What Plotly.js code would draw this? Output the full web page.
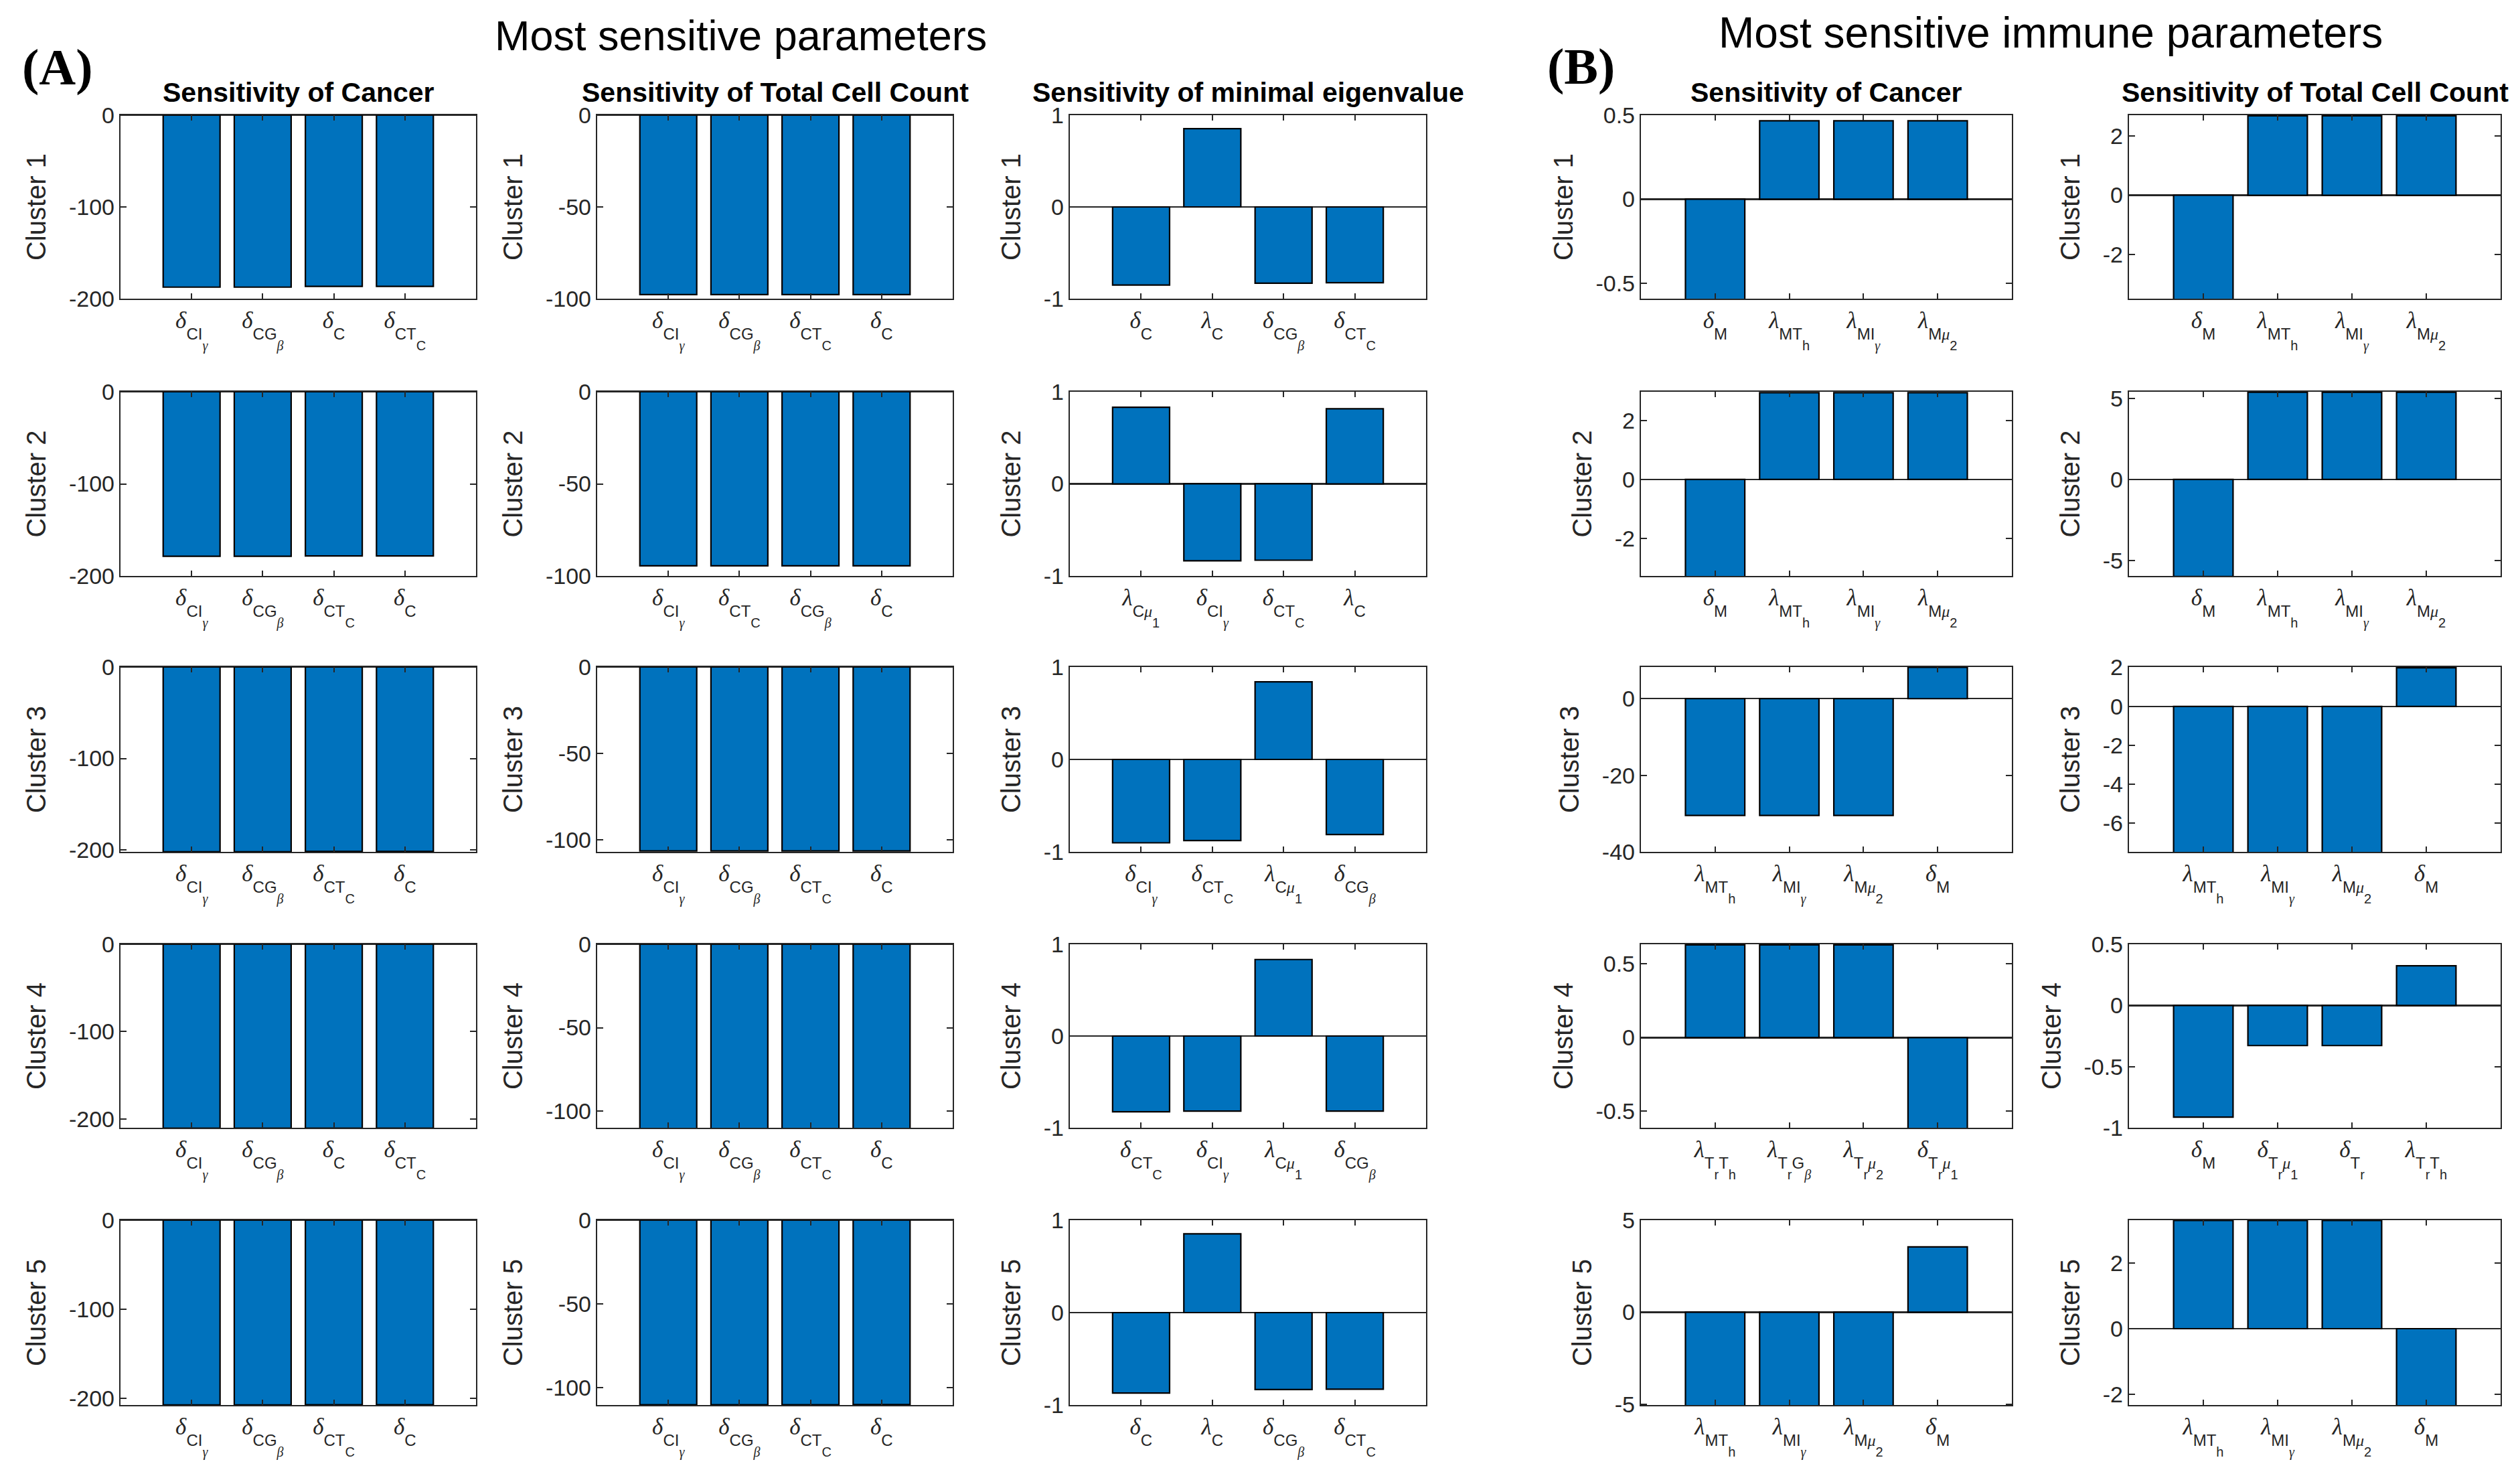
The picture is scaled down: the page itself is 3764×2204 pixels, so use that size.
<!DOCTYPE html>
<html>
<head>
<meta charset="utf-8">
<script src="https://cdn.plot.ly/plotly-3.0.1.min.js"></script>
<style>html,body{margin:0;padding:0;background:#ffffff;}</style>
</head>
<body>
<div id="chart" style="width:3764px;height:2204px;"></div>
<script>
// ---------------- DATA ----------------
const clusterNames = ['Cluster 1', 'Cluster 2', 'Cluster 3', 'Cluster 4', 'Cluster 5'];
const columnTitles = ['Sensitivity of Cancer', 'Sensitivity of Total Cell Count', 'Sensitivity of minimal eigenvalue',
                      'Sensitivity of Cancer', 'Sensitivity of Total Cell Count'];
const panelTitles = ['Most sensitive parameters', 'Most sensitive immune parameters'];
const panelLetters = ['(A)', '(B)'];

// (A) Sensitivity of Cancer
const cancerA_params = [
  ['\\delta_{CI_\\gamma}', '\\delta_{CG_\\beta}', '\\delta_{C}', '\\delta_{CT_C}'],
  ['\\delta_{CI_\\gamma}', '\\delta_{CG_\\beta}', '\\delta_{CT_C}', '\\delta_{C}'],
  ['\\delta_{CI_\\gamma}', '\\delta_{CG_\\beta}', '\\delta_{CT_C}', '\\delta_{C}'],
  ['\\delta_{CI_\\gamma}', '\\delta_{CG_\\beta}', '\\delta_{C}', '\\delta_{CT_C}'],
  ['\\delta_{CI_\\gamma}', '\\delta_{CG_\\beta}', '\\delta_{CT_C}', '\\delta_{C}']
];
const cancerA_values = [
  [-187.4, -187.4, -186.6, -186.6],
  [-178.6, -178.6, -178.3, -178.3],
  [-202.0, -202.0, -201.8, -201.8],
  [-210.5, -210.5, -210.5, -210.5],
  [-207.3, -207.3, -207.2, -207.2]
];
// (A) Sensitivity of Total Cell Count
const totalA_params = [
  ['\\delta_{CI_\\gamma}', '\\delta_{CG_\\beta}', '\\delta_{CT_C}', '\\delta_{C}'],
  ['\\delta_{CI_\\gamma}', '\\delta_{CT_C}', '\\delta_{CG_\\beta}', '\\delta_{C}'],
  ['\\delta_{CI_\\gamma}', '\\delta_{CG_\\beta}', '\\delta_{CT_C}', '\\delta_{C}'],
  ['\\delta_{CI_\\gamma}', '\\delta_{CG_\\beta}', '\\delta_{CT_C}', '\\delta_{C}'],
  ['\\delta_{CI_\\gamma}', '\\delta_{CG_\\beta}', '\\delta_{CT_C}', '\\delta_{C}']
];
const totalA_values = [
  [-97.8, -97.8, -97.8, -97.8],
  [-94.5, -94.5, -94.5, -94.5],
  [-106.5, -106.5, -106.5, -106.5],
  [-110.5, -110.5, -110.5, -110.5],
  [-110.2, -110.2, -110.2, -110.1]
];
// (A) Sensitivity of minimal eigenvalue
const eigA_params = [
  ['\\delta_{C}', '\\lambda_{C}', '\\delta_{CG_\\beta}', '\\delta_{CT_C}'],
  ['\\lambda_{C\\mu_1}', '\\delta_{CI_\\gamma}', '\\delta_{CT_C}', '\\lambda_{C}'],
  ['\\delta_{CI_\\gamma}', '\\delta_{CT_C}', '\\lambda_{C\\mu_1}', '\\delta_{CG_\\beta}'],
  ['\\delta_{CT_C}', '\\delta_{CI_\\gamma}', '\\lambda_{C\\mu_1}', '\\delta_{CG_\\beta}'],
  ['\\delta_{C}', '\\lambda_{C}', '\\delta_{CG_\\beta}', '\\delta_{CT_C}']
];
const eigA_values = [
  [-0.851, 0.853, -0.831, -0.826],
  [0.832, -0.836, -0.829, 0.815],
  [-0.902, -0.878, 0.840, -0.812],
  [-0.826, -0.819, 0.834, -0.819],
  [-0.870, 0.853, -0.833, -0.829]
];
// (B) Sensitivity of Cancer
const cancerB_params = [
  ['\\delta_{M}', '\\lambda_{MT_h}', '\\lambda_{MI_\\gamma}', '\\lambda_{M\\mu_2}'],
  ['\\delta_{M}', '\\lambda_{MT_h}', '\\lambda_{MI_\\gamma}', '\\lambda_{M\\mu_2}'],
  ['\\lambda_{MT_h}', '\\lambda_{MI_\\gamma}', '\\lambda_{M\\mu_2}', '\\delta_{M}'],
  ['\\lambda_{T_rT_h}', '\\lambda_{T_rG_\\beta}', '\\lambda_{T_r\\mu_2}', '\\delta_{T_r\\mu_1}'],
  ['\\lambda_{MT_h}', '\\lambda_{MI_\\gamma}', '\\lambda_{M\\mu_2}', '\\delta_{M}']
];
const cancerB_values = [
  [-0.62, 0.467, 0.467, 0.467],
  [-3.35, 2.95, 2.95, 2.95],
  [-30.5, -30.5, -30.5, 8.2],
  [0.63, 0.63, 0.63, -0.63],
  [-5.1, -5.1, -5.1, 3.55]
];
// (B) Sensitivity of Total Cell Count
const totalB_params = [
  ['\\delta_{M}', '\\lambda_{MT_h}', '\\lambda_{MI_\\gamma}', '\\lambda_{M\\mu_2}'],
  ['\\delta_{M}', '\\lambda_{MT_h}', '\\lambda_{MI_\\gamma}', '\\lambda_{M\\mu_2}'],
  ['\\lambda_{MT_h}', '\\lambda_{MI_\\gamma}', '\\lambda_{M\\mu_2}', '\\delta_{M}'],
  ['\\delta_{M}', '\\delta_{T_r\\mu_1}', '\\delta_{T_r}', '\\lambda_{T_rT_h}'],
  ['\\lambda_{MT_h}', '\\lambda_{MI_\\gamma}', '\\lambda_{M\\mu_2}', '\\delta_{M}']
];
const totalB_values = [
  [-3.55, 2.68, 2.68, 2.68],
  [-6.0, 5.38, 5.38, 5.38],
  [-7.5, -7.5, -7.5, 1.98],
  [-0.913, -0.328, -0.328, 0.324],
  [3.3, 3.3, 3.3, -2.4]
];

// axis limits and tick values for each column (rows 1..5)
const yRanges = [
  [[-200, 0], [-200, 0], [-202.2, 0], [-210, 0], [-207.5, 0]],
  [[-100, 0], [-100, 0], [-107, 0], [-110, 0], [-110.4, 0]],
  [[-1, 1], [-1, 1], [-1, 1], [-1, 1], [-1, 1]],
  [[-0.592, 0.5], [-3.28, 2.98], [-40, 8.26], [-0.613, 0.634], [-5.05, 5]],
  [[-3.49, 2.70], [-5.96, 5.41], [-7.46, 2.02], [-1, 0.5], [-2.33, 3.31]]
];
const yTicks = [
  [[-200, -100, 0], [-200, -100, 0], [-200, -100, 0], [-200, -100, 0], [-200, -100, 0]],
  [[-100, -50, 0], [-100, -50, 0], [-100, -50, 0], [-100, -50, 0], [-100, -50, 0]],
  [[-1, 0, 1], [-1, 0, 1], [-1, 0, 1], [-1, 0, 1], [-1, 0, 1]],
  [[-0.5, 0, 0.5], [-2, 0, 2], [-40, -20, 0], [-0.5, 0, 0.5], [-5, 0, 5]],
  [[-2, 0, 2], [-5, 0, 5], [-6, -4, -2, 0, 2], [-1, -0.5, 0, 0.5], [-2, 0, 2]]
];

const columnParams = [cancerA_params, totalA_params, eigA_params, cancerB_params, totalB_params];
const columnValues = [cancerA_values, totalA_values, eigA_values, cancerB_values, totalB_values];

// ---------------- LAYOUT (pixels of the 3764x2204 canvas) ----------------
const W = 3764, H = 2204;
const colPx = [[180, 711], [892, 1423], [1598, 2130], [2451, 3005], [3180, 3735]];
const rowPx = [[172, 446], [585, 860], [996, 1272], [1410, 1684], [1822, 2098]];
const FONT = 'Arial, Liberation Sans, sans-serif';
const INK = '#262626';
// sizes / downward shifts of subscript levels in the tick labels
const SUB_STYLE = [
  'font-size:24px;baseline-shift:-17px',
  'font-size:20px;baseline-shift:-16px'
];

const GREEK = {'\\delta': 'δ', '\\lambda': 'λ', '\\gamma': 'γ', '\\beta': 'β', '\\mu': 'μ'};
function greek(ch) {
  return '<span style="font-family:Liberation Serif,serif;font-style:italic">' + ch + '</span>';
}
function readCmd(s, i) {
  let j = i + 1;
  while (j < s.length && /[a-zA-Z]/.test(s[j])) j++;
  return [s.slice(i, j), j];
}
function tex(s, level) {
  level = level || 0;
  let out = '', i = 0;
  while (i < s.length) {
    const c = s[i];
    if (c === '\\') {
      const [cmd, j] = readCmd(s, i);
      out += greek(GREEK[cmd] || cmd);
      i = j;
    } else if (c === '_') {
      i++;
      let grp;
      if (s[i] === '{') {
        let d = 1, j = i + 1;
        while (d > 0 && j < s.length) { if (s[j] === '{') d++; else if (s[j] === '}') d--; j++; }
        grp = s.slice(i + 1, j - 1); i = j;
      } else if (s[i] === '\\') {
        const [cmd, j] = readCmd(s, i); grp = cmd; i = j;
      } else { grp = s[i]; i++; }
      const st = SUB_STYLE[Math.min(level, SUB_STYLE.length - 1)];
      out += '<span style="' + st + '">' + tex(grp, level + 1) + '</span>';
    } else { out += c; i++; }
  }
  return out;
}

const traces = [];
const layout = {
  width: W, height: H,
  margin: {l: 0, r: 0, t: 0, b: 0, pad: 0},
  paper_bgcolor: '#ffffff', plot_bgcolor: '#ffffff',
  showlegend: false,
  font: {family: FONT, color: INK},
  annotations: []
};

let k = 0;
for (let c = 0; c < 5; c++) {
  for (let r = 0; r < 5; r++) {
    k++;
    const sfx = k === 1 ? '' : String(k);
    const labels = columnParams[c][r].map(s => tex(s));
    traces.push({
      type: 'bar',
      x: labels,
      y: columnValues[c][r],
      width: 0.8,
      marker: {color: '#0072BD', line: {color: '#000000', width: 2.2}},
      xaxis: 'x' + sfx, yaxis: 'y' + sfx,
      hoverinfo: 'skip', showlegend: false
    });
    const ticks = yTicks[c][r];
    layout['xaxis' + sfx] = {
      domain: [colPx[c][0] / W, colPx[c][1] / W],
      anchor: 'y' + sfx,
      type: 'category',
      range: [-1, 4],
      ticks: 'inside', ticklen: 8, tickwidth: 2, tickcolor: INK,
      showline: true, linecolor: INK, linewidth: 2.2, mirror: 'ticks',
      showgrid: false, zeroline: false,
      tickfont: {family: FONT, size: 35, color: INK},
      fixedrange: true
    };
    layout['yaxis' + sfx] = {
      domain: [1 - rowPx[r][1] / H, 1 - rowPx[r][0] / H],
      anchor: 'x' + sfx,
      range: yRanges[c][r],
      tickmode: 'array', tickvals: ticks, ticktext: ticks.map(v => String(v)),
      ticks: 'inside', ticklen: 9, tickwidth: 2, tickcolor: INK,
      showline: true, linecolor: INK, linewidth: 2.2, mirror: 'ticks',
      showgrid: false,
      zeroline: true, zerolinecolor: INK, zerolinewidth: 2.5,
      tickfont: {family: FONT, size: 34, color: INK},
      title: {text: clusterNames[r], font: {family: FONT, size: 40, color: INK}, standoff: 22},
      fixedrange: true
    };
  }
  // column title above first row
  layout.annotations.push({
    xref: 'paper', yref: 'paper',
    x: (colPx[c][0] + colPx[c][1]) / 2 / W, y: 1 - rowPx[0][0] / H,
    xanchor: 'center', yanchor: 'bottom', yshift: 9,
    text: '<b>' + columnTitles[c] + '</b>', showarrow: false,
    font: {family: FONT, size: 41, color: '#000000'}
  });
}

// panel titles and letters
layout.annotations.push(
  {xref: 'paper', yref: 'paper', x: 1106 / W, y: 1 - 53 / H, xanchor: 'center', yanchor: 'middle',
   text: panelTitles[0], showarrow: false, font: {family: FONT, size: 63, color: '#000000'}},
  {xref: 'paper', yref: 'paper', x: 3063 / W, y: 1 - 49 / H, xanchor: 'center', yanchor: 'middle',
   text: panelTitles[1], showarrow: false, font: {family: FONT, size: 64, color: '#000000'}},
  {xref: 'paper', yref: 'paper', x: 86 / W, y: 1 - 100 / H, xanchor: 'center', yanchor: 'middle',
   text: '<b>' + panelLetters[0] + '</b>', showarrow: false, font: {family: 'Liberation Serif, Times New Roman, serif', size: 76, color: '#000000'}},
  {xref: 'paper', yref: 'paper', x: 2361 / W, y: 1 - 99 / H, xanchor: 'center', yanchor: 'middle',
   text: '<b>' + panelLetters[1] + '</b>', showarrow: false, font: {family: 'Liberation Serif, Times New Roman, serif', size: 76, color: '#000000'}}
);

Plotly.newPlot('chart', traces, layout, {displayModeBar: false, staticPlot: true});
</script>
</body>
</html>
